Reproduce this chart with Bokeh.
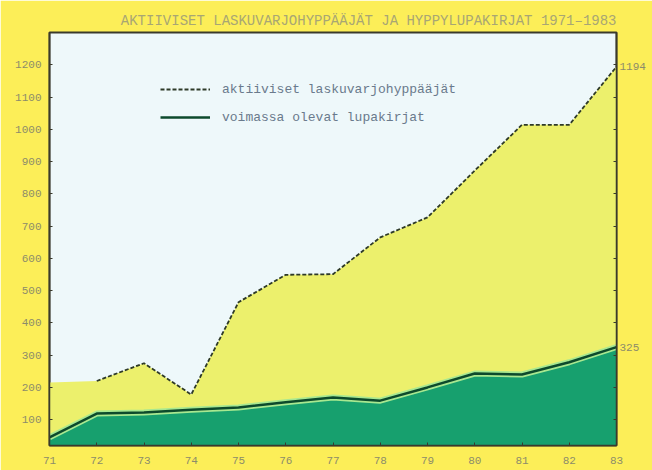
from bokeh.plotting import figure
from bokeh.models import Range1d, LinearAxis, FixedTicker, Legend, LegendItem, ColumnDataSource
from bokeh.embed import file_html
from bokeh.resources import INLINE

years = [71, 72, 73, 74, 75, 76, 77, 78, 79, 80, 81, 82, 83]
year_labels = ["71", "72", "73", "74", "75", "76", "77", "78", "79", "80", "81", "82", "83"]
active = [215, 220, 275, 178, 464, 549, 551, 665, 727, 872, 1014, 1014, 1194]
licenses = [45, 119, 122, 131, 138, 154, 169, 159, 200, 243, 240, 278, 325]
y_ticks = [100, 200, 300, 400, 500, 600, 700, 800, 900, 1000, 1100, 1200]

title = "AKTIIVISET LASKUVARJOHYPPÄÄJÄT JA HYPPYLUPAKIRJAT 1971–1983"
name_active = "aktiiviset laskuvarjohyppääjät"
name_lic = "voimassa olevat lupakirjat"

PAGE = "#fcee58"
MONO = "Liberation Mono"
INK = "#3a3a2c"
TICKTXT = "#8c8c6a"

src = ColumnDataSource(dict(x=years, a=active, l=licenses))
src_dash = ColumnDataSource(dict(x=years[1:], a=active[1:]))

p = figure(width=652, height=470, output_backend="svg", toolbar_location=None,
           x_range=Range1d(71, 83), y_range=Range1d(20, 1300),
           min_border_left=49, min_border_right=36, min_border_top=32, min_border_bottom=25,
           background_fill_color="#eef8fa", border_fill_color=PAGE,
           outline_line_color=INK, outline_line_width=2)

p.title.text = title
p.title.text_font = MONO
p.title.text_font_size = "14px"
p.title.text_font_style = "normal"
p.title.text_color = "#a8a674"
p.title.align = "right"
p.title.standoff = 7

p.varea(x="x", y1=20, y2="a", source=src, fill_color="#ecf06c")
p.varea(x="x", y1=20, y2="l", source=src, fill_color="#17a06e")
p.line(x="x", y="l", source=src, line_color="#a8e890", line_width=6)
lic_line = p.line(x="x", y="l", source=src, line_color="#0c4a2c", line_width=2.5)
dash_line = p.line(x="x", y="a", source=src_dash, line_color="#2e3a28", line_width=1.8, line_dash="4 2")

p.xgrid.visible = False
p.ygrid.visible = False

p.xaxis.ticker = FixedTicker(ticks=years)
p.xaxis.major_label_overrides = {y: s for y, s in zip(years, year_labels)}
p.yaxis.ticker = FixedTicker(ticks=y_ticks)

for ax in (p.xaxis[0], p.yaxis[0]):
    ax.major_tick_in = 3
    ax.major_tick_out = 0
    ax.minor_tick_line_color = None
    ax.axis_line_color = INK
    ax.axis_line_width = 1.5
    ax.major_tick_line_color = INK
    ax.major_label_text_font = MONO
    ax.major_label_text_font_size = "11px"
    ax.major_label_text_color = TICKTXT
p.xaxis.major_label_standoff = 11
p.yaxis.major_label_standoff = 8

# right axis: tick marks every 100 (minor ticks) and the final values as labels
end_vals = [licenses[-1], active[-1]]
right = LinearAxis(ticker=FixedTicker(ticks=end_vals, minor_ticks=y_ticks + [1300]),
                   major_label_overrides={v: str(v) for v in end_vals},
                   major_tick_in=0, major_tick_out=0,
                   minor_tick_in=3, minor_tick_out=0, minor_tick_line_color=INK,
                   axis_line_color=INK, axis_line_width=1.5,
                   major_label_text_font=MONO, major_label_text_font_size="11px",
                   major_label_text_color=TICKTXT, major_label_standoff=3)
p.add_layout(right, "right")

legend = Legend(items=[LegendItem(label=name_active, renderers=[dash_line]),
                       LegendItem(label=name_lic, renderers=[lic_line])],
                location=(111, 318), glyph_width=50, label_standoff=12, spacing=8,
                padding=0, margin=0, border_line_color=None, background_fill_alpha=0,
                label_text_font=MONO, label_text_font_size="13px", label_text_color="#6a7a8c")
p.add_layout(legend, "center")

html = file_html(p, INLINE)
html = html.replace("<body>", '<body style="background:%s">' % PAGE, 1)
open("out.html", "w").write(html)
